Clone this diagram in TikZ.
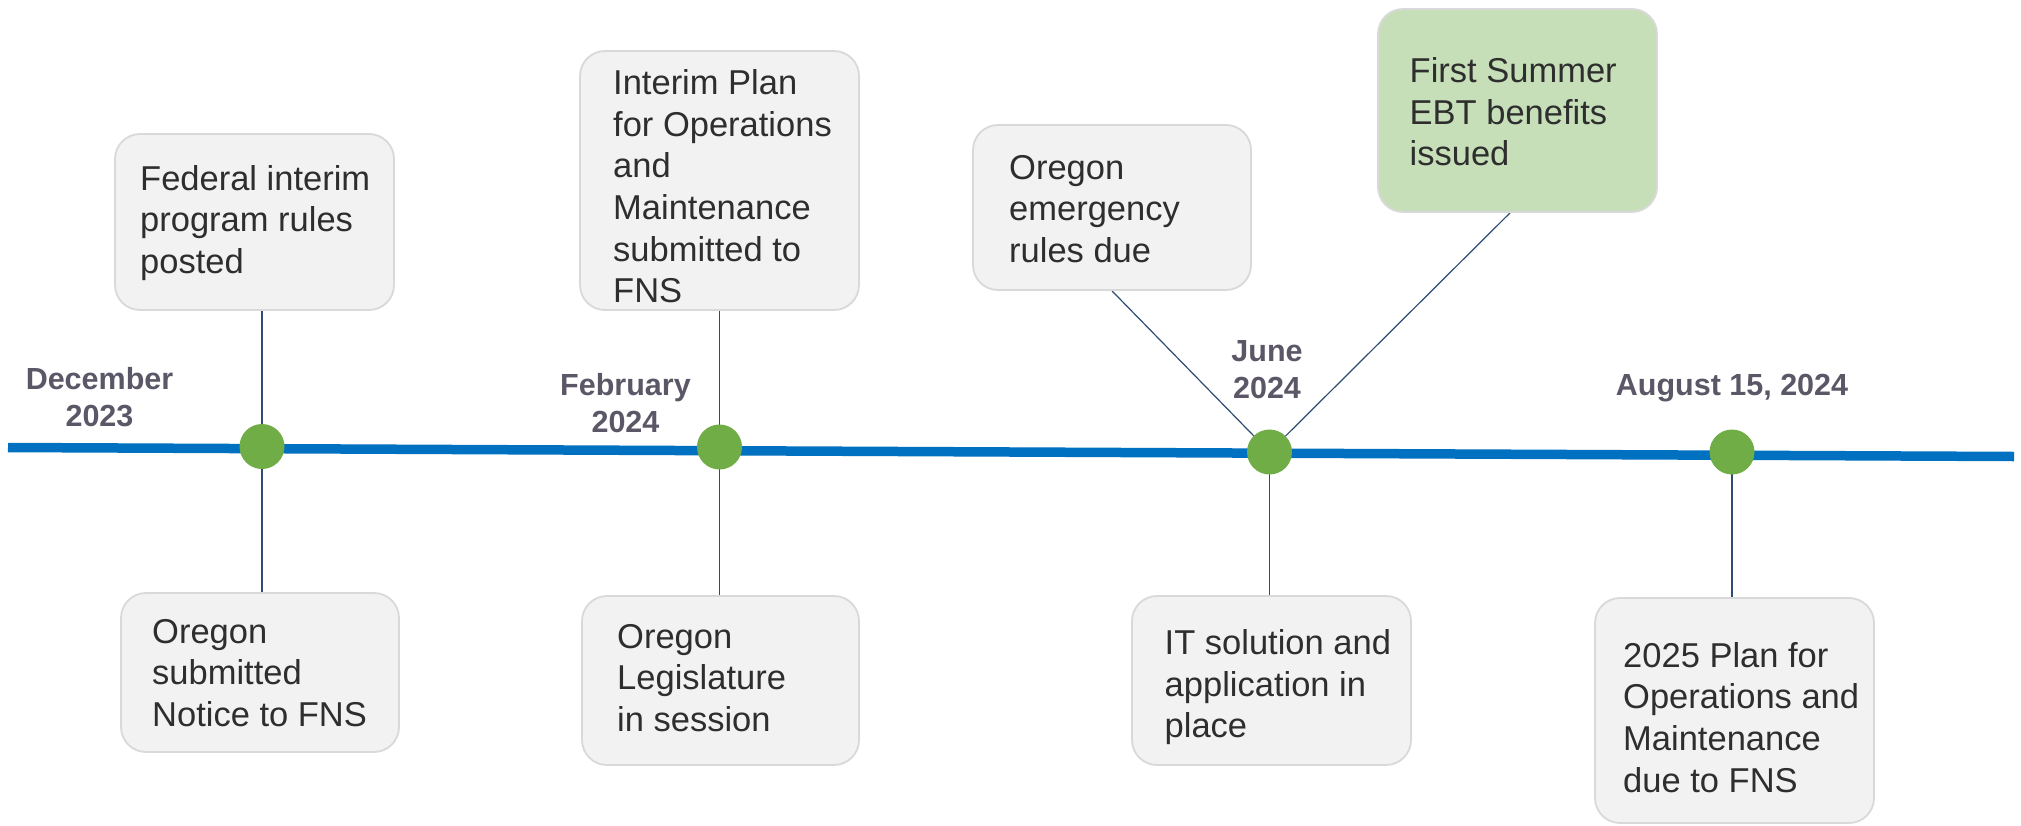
\documentclass[tikz,border=0pt]{standalone}
\usepackage{fontspec}
\setmainfont{Liberation Sans}
\usetikzlibrary{backgrounds}
\definecolor{boxfill}{HTML}{F2F2F2}
\definecolor{boxline}{HTML}{D9D9D9}
\definecolor{greenfill}{HTML}{C6DFB8}
\definecolor{dotgreen}{HTML}{70AD47}
\definecolor{axisblue}{HTML}{0070C0}
\definecolor{connline}{HTML}{2F4B73}
\definecolor{datecol}{HTML}{5B5766}
\definecolor{txt}{HTML}{2E2E2E}
\begin{document}
\begin{tikzpicture}[x=1pt,y=-1pt,
  evbox/.style={draw=boxline,line width=1.8pt,fill=boxfill,rounded corners=25pt,inner sep=0pt},
  boxtext/.style={anchor=base west,align=left,inner sep=0pt,font=\fontsize{34.5}{41.7}\selectfont,text=txt},
  datelbl/.style={anchor=base,align=center,inner sep=0pt,font=\fontsize{30.5}{36.5}\selectfont\bfseries,text=datecol},
  conn/.style={draw=connline,line width=1.2pt},
  dotnode/.style={circle,fill=dotgreen,minimum size=45pt,inner sep=0pt}]
\useasboundingbox (0,0) rectangle (2021,825);

% boxes
\node[evbox,minimum width=279pt,minimum height=176pt] (A) at (254.5,222) {};
\node[evbox,minimum width=279pt,minimum height=259pt] (B) at (719.5,180.5) {};
\node[evbox,minimum width=278pt,minimum height=165pt] (C) at (1112,207.5) {};
\node[evbox,fill=greenfill,minimum width=279pt,minimum height=203pt] (D) at (1517.5,110.5) {};
\node[evbox,minimum width=278pt,minimum height=159pt] (E) at (260,672.5) {};
\node[evbox,minimum width=277pt,minimum height=169pt] (F) at (720.5,680.5) {};
\node[evbox,minimum width=279pt,minimum height=169pt] (G) at (1271.5,680.5) {};
\node[evbox,minimum width=279pt,minimum height=225pt] (H) at (1734.5,710.5) {};

% box texts (anchor = baseline of the last line)
\node[boxtext] (tA) at (140,273.4) {Federal interim\\program rules\\posted};
\node[boxtext] (tB) at (613,302.8) {Interim Plan\\for Operations\\and\\Maintenance\\submitted to\\FNS};
\node[boxtext] (tC) at (1009,262.5) {Oregon\\emergency\\rules due};
\node[boxtext] (tD) at (1409.5,165.7) {First Summer\\EBT benefits\\issued};
\node[boxtext] (tE) at (152,726.4) {Oregon\\submitted\\Notice to FNS};
\node[boxtext] (tF) at (617,731.4) {Oregon\\Legislature\\in session};
\node[boxtext] (tG) at (1164.5,737.7) {IT solution and\\application in\\place};
\node[boxtext] (tH) at (1623,792.1) {2025 Plan for\\Operations and\\Maintenance\\due to FNS};

% date labels
\node[datelbl] (l1) at (99.5,426) {December\\2023};
\node[datelbl] (l2) at (625.5,432) {February\\2024};
\node[datelbl] (l3) at (1267,398.3) {June\\2024};
\node[datelbl] (l4) at (1732,395) {August 15, 2024};

% milestones
\node[dotnode] (d1) at (262,446.5) {};
\node[dotnode] (d2) at (719.5,447) {};
\node[dotnode] (d3) at (1269.5,452) {};
\node[dotnode] (d4) at (1732,452) {};

\coordinate (axL) at (8,447.5);
\coordinate (axR) at (2014,456.5);

\begin{scope}[on background layer]
  \fill[white] (0,0) rectangle (2021,825);
  \draw[conn] (A.south -| d1) -- (d1.center);
  \draw[conn] (B.south -| d2) -- (d2.center);
  \draw[conn] (C.south) -- (d3.center);
  \draw[conn] ([xshift=-7.5pt]D.south) -- (d3.center);
  \draw[conn] (d1.center) -- (E.north -| d1);
  \draw[conn] (d2.center) -- (F.north -| d2);
  \draw[conn] (d3.center) -- (G.north -| d3);
  \draw[conn] (d4.center) -- (H.north -| d4);
  \draw[axisblue,line width=9.5pt] (axL) -- (axR);
\end{scope}
\end{tikzpicture}
\end{document}
